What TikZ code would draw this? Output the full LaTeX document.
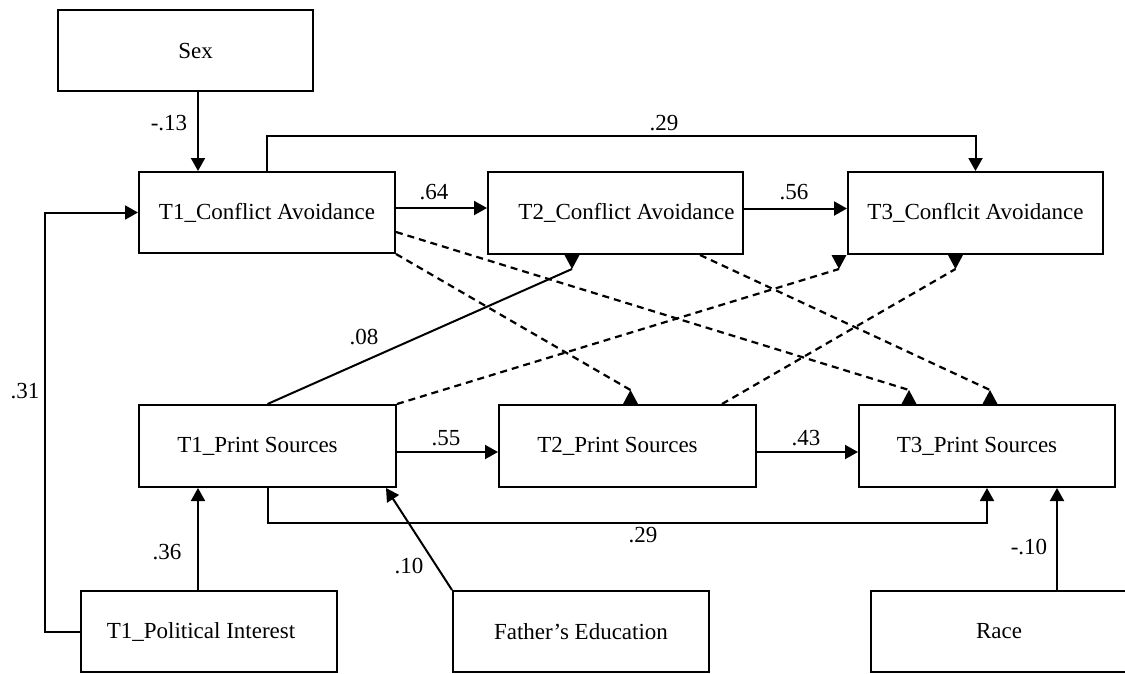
\documentclass[tikz,border=0pt]{standalone}
\usepackage{fontspec}
\setmainfont{Liberation Serif}
\usetikzlibrary{arrows.meta}

% shift a label sideways inside its box by #1
\newcommand{\nudge}[2]{\hspace*{#1}\hspace*{#1}#2}

\begin{document}
\begin{tikzpicture}[x=1pt,y=1pt,
  every node/.style={font=\fontsize{23}{27}\selectfont, text=black},
  box/.style={draw=black, line width=2pt, fill=white, minimum width=256pt,
              minimum height=82pt, inner sep=0pt},
  path/.style={line width=2pt, -{Triangle[length=13pt,width=14pt]}},
  solidline/.style={line width=2pt},
  dashline/.style={line width=2.2pt, dash pattern=on 7pt off 5pt},
  coef/.style={inner sep=0pt},
  wedgeup/.pic={\fill (-7.5,0) -- (7.5,0) -- (0,14) -- cycle;},
  wedgedown/.pic={\fill (-7.5,0) -- (7.5,0) -- (0,-14) -- cycle;}
]
\useasboundingbox (0,0) rectangle (1125,-673);

% variables
\node[box, minimum width=255pt, minimum height=81pt] (sex) at (185.5,-50.5) {\nudge{10pt}{Sex}};
\node[box, minimum height=81pt] (t1c) at (267,-212.5) {T1\_Conflict Avoidance};
\node[box, minimum width=255pt] (t2c) at (615.5,-213) {\nudge{11pt}{T2\_Conflict Avoidance}};
\node[box, minimum width=255pt] (t3c) at (975.5,-213) {T3\_Conflcit Avoidance};
\node[box, minimum width=257pt] (t1p) at (267.5,-446) {\nudge{-10pt}{T1\_Print Sources}};
\node[box, minimum width=257pt] (t2p) at (627.5,-446) {\nudge{-10pt}{T2\_Print Sources}};
\node[box] (t3p) at (987,-446) {\nudge{-10pt}{T3\_Print Sources}};
\node[box, minimum height=81pt] (pol) at (209,-631.5) {\nudge{-8pt}{T1\_Political Interest}};
\node[box, minimum height=81pt] (fath) at (581,-631.5) {Father’s Education};
\node[box, minimum height=81pt] (race) at (999,-631.5) {Race};

% significant paths
\draw[path] ([xshift=12.5pt]sex.south) -- ([xshift=12.5pt]sex.south |- t1c.north);
\draw[path] (t1c.north) -- ++(0,35) -| (t3c.north);
\draw[path] ([yshift=4.5pt]t1c.east) -- ([yshift=4.5pt]t1c.east -| t2c.west);
\draw[path] ([yshift=4.5pt]t2c.east) -- ([yshift=4.5pt]t2c.east -| t3c.west);
\draw[path] ([yshift=-6pt]t1p.east) -- ([yshift=-6pt]t1p.east -| t2p.west);
\draw[path] ([yshift=-6pt]t2p.east) -- ([yshift=-6pt]t2p.east -| t3p.west);
\draw[path] (pol.west) -- ++(-35,0) |- (t1c.west);
\draw[path] ([xshift=-11pt]pol.north) -- ([xshift=-11pt]pol.north |- t1p.south);
\draw[path] (t1p.south) -- ++(0,-35) -| (t3p.south);
\draw[path] (fath.north west) -- ([xshift=-11pt]t1p.south east);
\draw[path] ([xshift=58pt]race.north) -- ([xshift=58pt]race.north |- t3p.south);

% cross-lagged path into T2 conflict avoidance
\draw[solidline] (t1p.north) -- ([xshift=-43.5pt,yshift=-14pt]t2c.south);
\pic at ([xshift=-43.5pt]t2c.south) {wedgedown};

% non-significant cross-lagged paths
\draw[dashline] (t1c.south east) -- ([xshift=3pt,yshift=14pt]t2p.north);
\pic at ([xshift=3pt]t2p.north) {wedgeup};
\draw[dashline] ([yshift=-19.5pt]t1c.east) -- ([xshift=-78pt,yshift=14pt]t3p.north);
\pic at ([xshift=-78pt]t3p.north) {wedgeup};
\draw[dashline] ([xshift=84.5pt]t2c.south) -- ([xshift=3pt,yshift=14pt]t3p.north);
\pic at ([xshift=3pt]t3p.north) {wedgeup};
\draw[dashline] (t1p.north east) -- ([xshift=-8pt,yshift=-14pt]t3c.south west);
\pic at ([xshift=-8pt]t3c.south west) {wedgedown};
\draw[dashline] ([xshift=94.5pt]t2p.north) -- ([xshift=-20pt,yshift=-14pt]t3c.south);
\pic at ([xshift=-20pt]t3c.south) {wedgedown};

% coefficients
\node[coef] (c1) at (169,-123) {-.13};
\node[coef] (c2) at (664,-123) {.29};
\node[coef] (c3) at (434,-192) {.64};
\node[coef] (c4) at (794,-192) {.56};
\node[coef] (c5) at (364,-337) {.08};
\node[coef] (c6) at (25,-391) {.31};
\node[coef] (c7) at (167,-552) {.36};
\node[coef] (c8) at (409,-566) {.10};
\node[coef] (c9) at (446,-438) {.55};
\node[coef] (c10) at (806,-438) {.43};
\node[coef] (c11) at (643,-535) {.29};
\node[coef] (c12) at (1029,-547) {-.10};
\end{tikzpicture}
\end{document}
